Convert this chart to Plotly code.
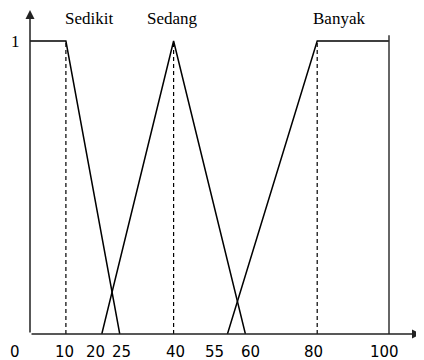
import plotly.graph_objects as go

# Membership function breakpoints
sedikit_x = [0, 10, 25]
sedikit_y = [1, 1, 0]
sedang_x = [20, 40, 60]
sedang_y = [0, 1, 0]
banyak_x = [55, 80, 100]
banyak_y = [0, 1, 1]
dashed_x = [10, 40, 80]
tick_vals = [0, 10, 20, 25, 40, 55, 60, 80, 100]
tick_text = ["0", "10", "20", "25", "40", "55", "60", "80", "100"]
labels = ["Sedikit", "Sedang", "Banyak"]
label_x = [16.4, 39.8, 86.1]

# style: pixel nudges for the tick labels (as in the hand-drawn original)
tick_nudge = [-15, -1, -6, 2, 2, -13, 5, -4, -5]

PX_X = 3.59   # pixels per unit x
PX_Y = 293.0  # pixels per unit y
W, H = 424, 360
OFF = 8       # default page body margin
L = 30 - OFF
B = H - (334 - OFF)
xmax = (W - L) / PX_X
ymax = (H - B) / PX_Y

fig = go.Figure()
line = dict(color="black", width=1.5)
for xs, ys in [(sedikit_x, sedikit_y), (sedang_x, sedang_y), (banyak_x, banyak_y)]:
    fig.add_trace(go.Scatter(x=xs, y=ys, mode="lines", line=line, cliponaxis=False, hoverinfo="skip"))

# dashed verticals
for dx in dashed_x:
    fig.add_trace(go.Scatter(x=[dx, dx], y=[0, 1], mode="lines",
                             line=dict(color="black", width=1.2, dash="4px,3px"),
                             cliponaxis=False, hoverinfo="skip"))

# vertical at 100
fig.add_trace(go.Scatter(x=[100, 100], y=[0, 1.02], mode="lines",
                         line=dict(color="#333", width=1.5), cliponaxis=False, hoverinfo="skip"))

anns = []
# axes with arrows
anns.append(dict(x=(421 - 30) / PX_X, y=0, ax=0, ay=0, xref="x", yref="y", axref="x", ayref="y",
                 showarrow=True, arrowhead=2, arrowsize=1.2, arrowwidth=1.5, arrowcolor="#222", text=""))
anns.append(dict(x=0, y=(334 - 10) / PX_Y, ax=0, ay=0, xref="x", yref="y", axref="x", ayref="y",
                 showarrow=True, arrowhead=2, arrowsize=1.2, arrowwidth=1.5, arrowcolor="#222", text=""))

# tick labels
for v, t, n in zip(tick_vals, tick_text, tick_nudge):
    anns.append(dict(x=v, y=0, xref="x", yref="y", text=t, showarrow=False,
                     yshift=-18, xshift=n, font=dict(family="DejaVu Sans", size=15, color="black")))

# y label "1"
anns.append(dict(x=0, y=1, xref="x", yref="y", text="1", showarrow=False, xshift=-15,
                 font=dict(family="Liberation Serif", size=17, color="black")))

# set labels
for lx, t in zip(label_x, labels):
    anns.append(dict(x=lx, y=(334 - 18) / PX_Y, xref="x", yref="y", text=t, showarrow=False,
                     font=dict(family="Liberation Serif", size=17, color="black")))

fig.update_layout(
    width=W, height=H,
    margin=dict(l=L, r=0, t=0, b=B),
    plot_bgcolor="white", paper_bgcolor="white",
    showlegend=False,
    xaxis=dict(range=[0, xmax], visible=False),
    yaxis=dict(range=[0, ymax], visible=False),
    annotations=anns,
)
fig.write_html("out.html")
